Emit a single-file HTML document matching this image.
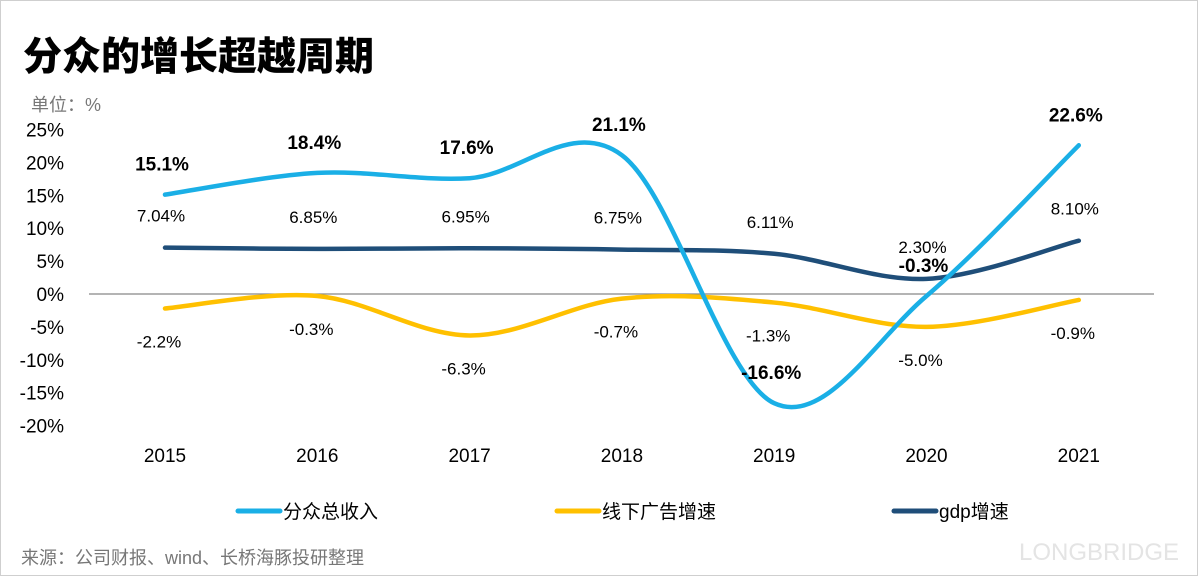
<!DOCTYPE html>
<html><head><meta charset="utf-8">
<style>
html,body{margin:0;padding:0;background:#fff;}
#wrap{position:relative;width:1196px;height:574px;border:1px solid #cfcfcf;overflow:hidden;font-family:"Liberation Sans","Noto Sans CJK SC",sans-serif;}
svg{position:absolute;left:0;top:0;}
</style></head><body>
<div id="wrap">
<svg id="chart" width="1198" height="576">
  <text x="22" y="69" font-size="39" font-weight="900" fill="#000" font-family="'Noto Sans CJK SC',sans-serif">分众的增长超越周期</text>
  <text x="30" y="110" font-size="18" fill="#777" font-family="'Liberation Sans','Noto Sans CJK SC',sans-serif">单位：%</text>
  <text x="20" y="563" font-size="18" fill="#777" font-family="'Liberation Sans','Noto Sans CJK SC',sans-serif">来源：公司财报、wind、长桥海豚投研整理</text>
  <text x="1018" y="559" font-size="24" fill="#e4e4e4">LONGBRIDGE</text>
  <g id="axes"></g>
  <g id="series"></g>
  <g id="labels"></g>
  <g id="legend"></g>
</svg>
</div>
<script>
const categories=["2015","2016","2017","2018","2019","2020","2021"];
const revenue=[15.1,18.4,17.6,21.1,-16.6,-0.3,22.6];
const offlineAd=[-2.2,-0.3,-6.3,-0.7,-1.3,-5.0,-0.9];
const gdp=[7.04,6.85,6.95,6.75,6.11,2.30,8.10];
const revenueLabels=["15.1%","18.4%","17.6%","21.1%","-16.6%","-0.3%","22.6%"];
const adLabels=["-2.2%","-0.3%","-6.3%","-0.7%","-1.3%","-5.0%","-0.9%"];
const gdpLabels=["7.04%","6.85%","6.95%","6.75%","6.11%","2.30%","8.10%"];
const yTicks=[25,20,15,10,5,0,-5,-10,-15,-20];

const NS="http://www.w3.org/2000/svg";
function mk(t,a,p,txt){const e=document.createElementNS(NS,t);for(const k in a)e.setAttribute(k,a[k]);if(txt!==undefined)e.textContent=txt;p.appendChild(e);return e;}
const x=i=>164+i*152.3;
const y=v=>293-v*6.58;
const axes=document.getElementById('axes'),series=document.getElementById('series'),labels=document.getElementById('labels'),legend=document.getElementById('legend');

yTicks.forEach(t=>{
  const e=mk('text',{x:63,y:y(t)+7,'font-size':19,'text-anchor':'end',fill:'#000'},axes,t+'%');
  
  
});
const zl=mk('line',{x1:88,x2:1153,y1:y(0),y2:y(0),stroke:'#888','stroke-width':1.2},axes);


categories.forEach((c,i)=>{
  const e=mk('text',{x:x(i),y:461,'font-size':19,'text-anchor':'middle',fill:'#000'},axes,c);
  
  
});

function smooth(vals){
  const p=vals.map((v,i)=>[x(i),y(v)]);
  let d='M'+p[0][0]+','+p[0][1];
  for(let i=0;i<p.length-1;i++){
    const p0=p[i-1]||p[i],p1=p[i],p2=p[i+1],p3=p[i+2]||p2;
    const c1=[p1[0]+(p2[0]-p0[0])/6,p1[1]+(p2[1]-p0[1])/6];
    const c2=[p2[0]-(p3[0]-p1[0])/6,p2[1]-(p3[1]-p1[1])/6];
    d+=' C'+c1+' '+c2+' '+p2;
  }
  return d;
}
const defs=[
 {vals:gdp,color:'#1F4E79',name:'gdp-line'},
 {vals:offlineAd,color:'#FFC000',name:'offline-ad-line'},
 {vals:revenue,color:'#1AAFE6',name:'revenue-line'}];
defs.forEach(s=>{
  const e=mk('path',{d:smooth(s.vals),fill:'none',stroke:s.color,'stroke-width':4.5,'stroke-linecap':'round'},series);
  
  
});

revenue.forEach((v,i)=>{
  const e=mk('text',{x:x(i)-3,y:y(v)-24,'font-size':19,'font-weight':'bold','text-anchor':'middle',fill:'#000'},labels,revenueLabels[i]);
  
  
});
gdp.forEach((v,i)=>{
  const e=mk('text',{x:x(i)-4,y:y(v)-26,'font-size':17,'text-anchor':'middle',fill:'#000'},labels,gdpLabels[i]);
  
  
});
offlineAd.forEach((v,i)=>{
  const e=mk('text',{x:x(i)-6,y:y(v)+39,'font-size':17,'text-anchor':'middle',fill:'#000'},labels,adLabels[i]);
  
  
});

const leg=[{x:237,c:'#1AAFE6',t:'分众总收入'},{x:556,c:'#FFC000',t:'线下广告增速'},{x:893,c:'#1F4E79',t:'gdp增速'}];
leg.forEach(l=>{
  const g=mk('g',{},legend);
  
  
  mk('line',{x1:l.x,x2:l.x+42,y1:510,y2:510,stroke:l.c,'stroke-width':5,'stroke-linecap':'round'},g);
  mk('text',{x:l.x+45,y:517,'font-size':19,fill:'#000'},g,l.t);
});
</script>
</body></html>
